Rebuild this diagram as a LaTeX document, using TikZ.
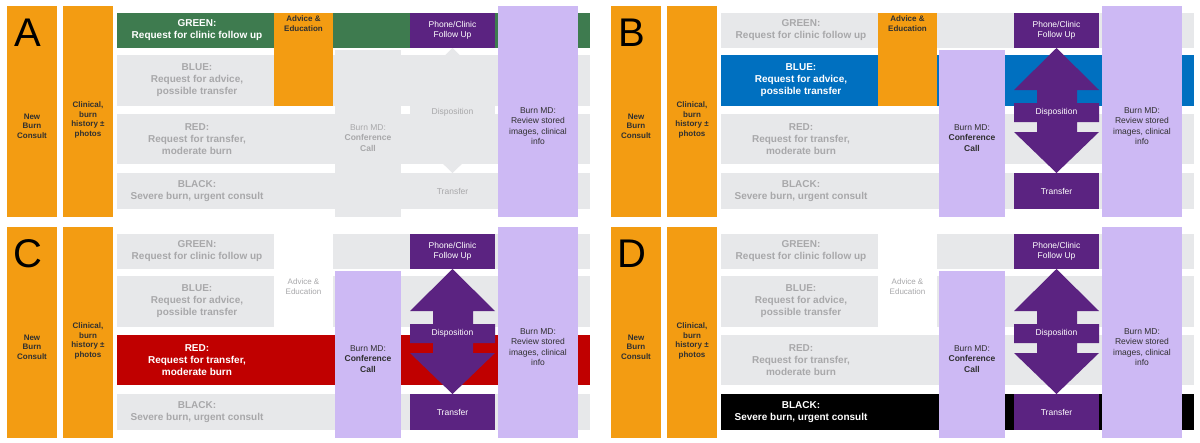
\documentclass[tikz,border=0pt]{standalone}
\usepackage{fontspec}
\setmainfont{Liberation Sans}
\definecolor{orng}{HTML}{F39C12}
\definecolor{rowgray}{HTML}{E7E8EA}
\definecolor{txtgray}{HTML}{A8A8AA}
\definecolor{lav}{HTML}{CDB9F4}
\definecolor{purp}{HTML}{5B2381}
\definecolor{hlA}{HTML}{3E7B4F}
\definecolor{hlB}{HTML}{0070C0}
\definecolor{hlC}{HTML}{C00000}
\definecolor{hlD}{HTML}{000000}
\definecolor{dark}{HTML}{303030}
\tikzset{
 blk/.style={inner sep=0pt,align=center,font=\bfseries\fontsize{8}{9.5}\selectfont},
 rowtxt/.style={align=center,font=\bfseries\fontsize{10}{12}\selectfont},
 mdtxt/.style={align=center,font=\fontsize{8.5}{10.5}\selectfont},
}
\newcommand\rowbox[7]{% prefix, index, y1, y2, line1, line2, hl
 \ifnum#2=#7\relax \def\rf{hl\ifcase#7\or A\or B\or C\or D\fi}\def\rt{white}\else\def\rf{rowgray}\def\rt{txtgray}\fi
 \fill[\rf] (117,#3) rectangle (590,#4);
 \node[rowtxt,text=\rt] (#1row#2) at (197,{(#3+#4)/2}) {#5\\#6};
}
\newcommand\drawpanel[5]{% prefix, dx, dy, letter, hl
\begin{scope}[shift={(#2,#3)}]
 \fill[orng] (7,6) rectangle (57,217);
 \node[blk,text=dark] (#1new) at (32,126) {New\\Burn\\Consult};
 \node[font=\fontsize{40}{40}\selectfont] (#1let) at (28,33) {#4};
 \fill[orng] (63,6) rectangle (113,217);
 \node[blk,text=dark] (#1clin) at (88,120) {Clinical,\\burn\\history ±\\photos};
 \rowbox{#1}{1}{13}{48}{GREEN:}{Request for clinic follow up}{#5}
 \rowbox{#1}{2}{55}{106}{BLUE:}{Request for advice,\\possible transfer}{#5}
 \rowbox{#1}{3}{114}{164}{RED:}{Request for transfer,\\moderate burn}{#5}
 \rowbox{#1}{4}{173}{209}{BLACK:}{Severe burn, urgent consult}{#5}
 \ifnum#5<3
  \fill[orng] (274,13) rectangle (333,106);
  \node[blk,text=dark,anchor=north] (#1adv) at (303.5,16) {Advice \&\\Education};
 \else
  \fill[white] (274,13) rectangle (333,106);
  \node[blk,text=txtgray,anchor=north,font=\fontsize{8}{9.5}\selectfont] (#1adv) at (303.5,58) {Advice \&\\Education};
 \fi
 \ifnum#5=1
  \fill[rowgray] (335,50) rectangle (401,217);
  \node[mdtxt,text=txtgray] (#1conf) at (368,138) {Burn MD:\\\textbf{Conference}\\\textbf{Call}};
  \fill[rowgray] (452.5,48) -- (495,90) -- (473,90) -- (473,132) -- (495,132) -- (452.5,173) -- (410,132) -- (433,132) -- (433,90) -- (410,90) -- cycle;
  \fill[rowgray] (410,55) rectangle (495,163);
  \node[mdtxt,text=txtgray] (#1disp) at (452.5,112) {Disposition};
  \node[mdtxt,text=txtgray] (#1tr) at (452.5,191.5) {Transfer};
 \else
  \fill[lav] (335,50) rectangle (401,217);
  \node[mdtxt,text=dark] (#1conf) at (368,138) {Burn MD:\\\textbf{Conference}\\\textbf{Call}};
  \fill[purp] (452.5,48) -- (495,90) -- (473,90) -- (473,103) -- (495,103) -- (495,122) -- (473,122) -- (473,132) -- (495,132) -- (452.5,173) -- (410,132) -- (433,132) -- (433,122) -- (410,122) -- (410,103) -- (433,103) -- (433,90) -- (410,90) -- cycle;
  \node[mdtxt,text=white] (#1disp) at (452.5,112) {Disposition};
  \fill[purp] (410,173) rectangle (495,209);
  \node[mdtxt,text=white] (#1tr) at (452.5,191.5) {Transfer};
 \fi
 \fill[purp] (410,13) rectangle (495,48);
 \node[mdtxt,text=white] (#1ph) at (452.5,30.5) {Phone/Clinic\\Follow Up};
 \fill[lav] (498,6) rectangle (578,217);
 \node[mdtxt,text=dark] (#1md) at (538,126) {Burn MD:\\Review stored\\images, clinical\\info};
\end{scope}
}
\begin{document}
\begin{tikzpicture}[x=1pt,y=-1pt]
 \useasboundingbox (0,0) rectangle (1200,442);
 \fill[white] (0,0) rectangle (1200,442);
 \drawpanel{a}{0}{0}{A}{1}
 \drawpanel{b}{604}{0}{B}{2}
 \drawpanel{c}{0}{221}{C}{3}
 \drawpanel{d}{604}{221}{D}{4}
\end{tikzpicture}
\end{document}
